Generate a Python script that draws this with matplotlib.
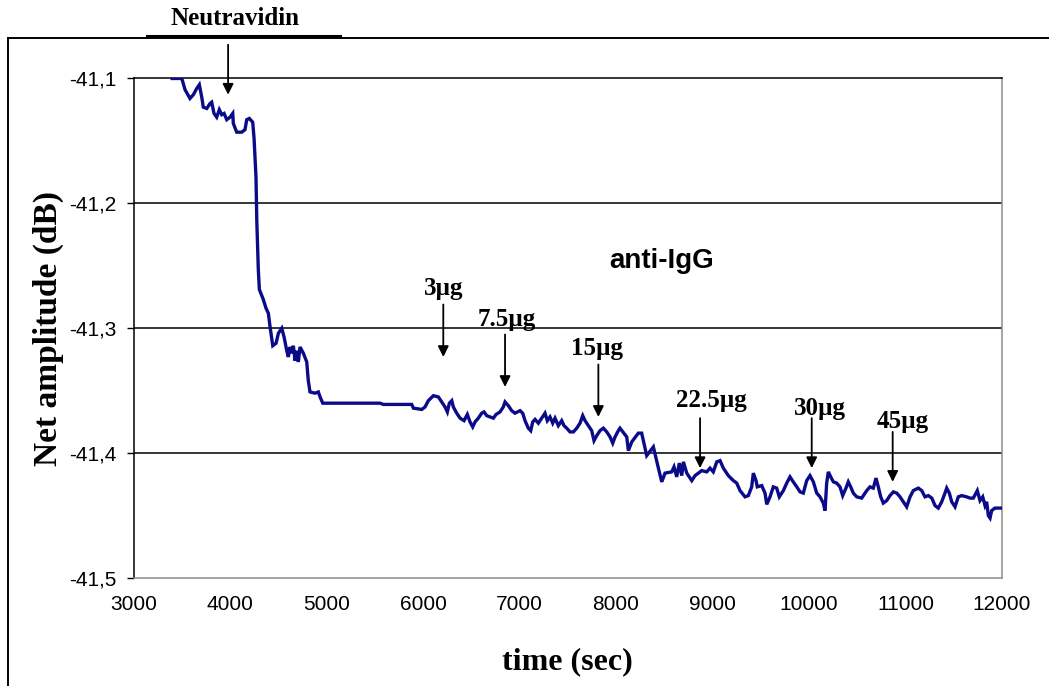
import matplotlib
matplotlib.use('Agg')
import matplotlib.pyplot as plt
from matplotlib.ticker import FuncFormatter, MultipleLocator
from matplotlib.lines import Line2D

# sensor response, time in s, net amplitude in dB
time_s = [3400, 3500, 3534, 3585, 3620, 3655, 3682, 3707, 3723, 3759, 3793, 3810, 3834, 3862,
          3889, 3914, 3938, 3966, 4000, 4028, 4034, 4069, 4121, 4155, 4173, 4200, 4235, 4249,
          4269, 4277, 4293, 4304, 4345, 4373, 4397, 4415, 4443, 4477, 4501, 4536, 4560, 4588,
          4604, 4622, 4639, 4656, 4674, 4691, 4708, 4725, 4760, 4795, 4811, 4829, 4881, 4915,
          4933, 4961, 5554, 5589, 5883, 5900, 5987, 6021, 6055, 6107, 6159, 6194, 6228, 6252,
          6273, 6298, 6314, 6349, 6384, 6425, 6459, 6487, 6515, 6539, 6573, 6608, 6632, 6660,
          6694, 6729, 6757, 6798, 6832, 6850, 6884, 6919, 6953, 7005, 7033, 7057, 7091, 7116,
          7137, 7161, 7195, 7230, 7264, 7288, 7316, 7344, 7368, 7402, 7437, 7461, 7489, 7523,
          7558, 7593, 7627, 7655, 7679, 7713, 7748, 7772, 7800, 7834, 7869, 7904, 7938, 7966,
          7990, 8024, 8041, 8111, 8128, 8163, 8231, 8266, 8318, 8387, 8439, 8474, 8508, 8577,
          8601, 8629, 8656, 8681, 8698, 8733, 8785, 8819, 8888, 8940, 8974, 9008, 9044, 9078,
          9112, 9164, 9216, 9251, 9285, 9337, 9371, 9406, 9423, 9451, 9464, 9510, 9544, 9562,
          9596, 9630, 9665, 9692, 9734, 9769, 9803, 9837, 9873, 9907, 9941, 9976, 10010, 10045,
          10080, 10114, 10148, 10166, 10183, 10200, 10225, 10252, 10287, 10321, 10349, 10383,
          10407, 10432, 10459, 10494, 10546, 10598, 10632, 10666, 10694, 10718, 10743, 10770,
          10805, 10839, 10874, 10909, 10943, 10977, 11012, 11047, 11081, 11133, 11168, 11202,
          11236, 11272, 11306, 11340, 11375, 11409, 11427, 11454, 11479, 11513, 11547, 11582,
          11634, 11668, 11703, 11730, 11744, 11772, 11800, 11824, 11841, 11858, 11876, 11893,
          11927, 12000]
amplitude_db = [-41.100, -41.100, -41.109, -41.116, -41.113, -41.108, -41.105, -41.115, -41.123,
                -41.124, -41.120, -41.119, -41.128, -41.131, -41.125, -41.129, -41.128, -41.133,
                -41.131, -41.128, -41.136, -41.143, -41.143, -41.141, -41.133, -41.132, -41.135,
                -41.148, -41.179, -41.213, -41.253, -41.269, -41.277, -41.284, -41.288, -41.299,
                -41.314, -41.312, -41.304, -41.300, -41.307, -41.318, -41.323, -41.315, -41.320,
                -41.314, -41.326, -41.318, -41.327, -41.315, -41.320, -41.327, -41.342, -41.351,
                -41.352, -41.351, -41.355, -41.360, -41.360, -41.361, -41.361, -41.364, -41.365,
                -41.363, -41.358, -41.354, -41.355, -41.359, -41.363, -41.367, -41.360, -41.358,
                -41.363, -41.368, -41.372, -41.374, -41.369, -41.375, -41.379, -41.375, -41.372,
                -41.368, -41.367, -41.370, -41.371, -41.372, -41.369, -41.367, -41.363, -41.359,
                -41.362, -41.366, -41.368, -41.366, -41.368, -41.374, -41.380, -41.382, -41.375,
                -41.373, -41.376, -41.372, -41.368, -41.374, -41.371, -41.376, -41.372, -41.378,
                -41.374, -41.378, -41.380, -41.383, -41.383, -41.380, -41.376, -41.370, -41.374,
                -41.378, -41.382, -41.390, -41.386, -41.382, -41.380, -41.383, -41.387, -41.392,
                -41.387, -41.382, -41.380, -41.387, -41.398, -41.391, -41.384, -41.384, -41.402,
                -41.395, -41.412, -41.423, -41.416, -41.415, -41.411, -41.419, -41.408, -41.418,
                -41.407, -41.416, -41.422, -41.418, -41.414, -41.415, -41.412, -41.415, -41.407,
                -41.406, -41.412, -41.418, -41.422, -41.424, -41.430, -41.435, -41.434, -41.427,
                -41.416, -41.422, -41.427, -41.426, -41.432, -41.441, -41.435, -41.427, -41.428,
                -41.435, -41.430, -41.424, -41.419, -41.423, -41.427, -41.431, -41.432, -41.422,
                -41.418, -41.423, -41.432, -41.435, -41.440, -41.446, -41.424, -41.415, -41.419,
                -41.423, -41.424, -41.427, -41.434, -41.428, -41.423, -41.427, -41.432, -41.435,
                -41.436, -41.430, -41.427, -41.428, -41.420, -41.427, -41.435, -41.440, -41.438,
                -41.434, -41.431, -41.432, -41.435, -41.439, -41.443, -41.435, -41.430, -41.428,
                -41.430, -41.435, -41.434, -41.436, -41.442, -41.444, -41.439, -41.432, -41.428,
                -41.432, -41.439, -41.443, -41.435, -41.434, -41.435, -41.436, -41.436, -41.432,
                -41.430, -41.438, -41.435, -41.442, -41.439, -41.450, -41.452, -41.446, -41.444,
                -41.444]

# anti-IgG injections
dose_labels = ['3µg', '7.5µg', '15µg', '22.5µg', '30µg', '45µg']
dose_times = [6210, 6850, 7817, 8871, 10028, 10867]
neutravidin_time = 3980

# arrow tail / tip heights and label anchors (data units)
dose_arrow_tail = [-41.281, -41.305, -41.329, -41.372, -41.372, -41.383]
dose_arrow_tip = [-41.323, -41.347, -41.371, -41.412, -41.412, -41.423]
dose_label_x = [6218, 6871, 7803, 8985, 10114, 10974]
dose_label_y = [-41.268, -41.293, -41.316, -41.358, -41.364, -41.375]

serif = 'Liberation Serif'
sans = 'Liberation Sans'

fig = plt.figure(figsize=(10.49, 6.86), dpi=100)
ax = fig.add_axes([0.1273, 0.1574, 0.8279, 0.7282])

ax.plot(time_s, amplitude_db, color='#0b0b8a', lw=2.4, solid_joinstyle='miter', zorder=3)

ax.set_xlim(3000, 12000)
ax.set_ylim(-41.5, -41.1)
ax.xaxis.set_major_locator(MultipleLocator(1000))
ax.yaxis.set_major_locator(MultipleLocator(0.1))
ax.yaxis.set_major_formatter(FuncFormatter(lambda v, p: f'{v:.1f}'.replace('.', ',')))

for yv in [-41.2, -41.3, -41.4]:
    ax.axhline(yv, color='black', lw=1.1, zorder=1)

for s in ['top', 'left']:
    ax.spines[s].set_color('black')
    ax.spines[s].set_linewidth(1.1)
for s in ['bottom', 'right']:
    ax.spines[s].set_color('#8c8c8c')
    ax.spines[s].set_linewidth(1.1)

ax.tick_params(axis='y', direction='out', length=5, width=1, pad=7, labelsize=15)
ax.tick_params(axis='x', length=0, pad=12, labelsize=15)
for lab in ax.get_xticklabels() + ax.get_yticklabels():
    lab.set_family(sans)

ax.set_xlabel('time (sec)', fontsize=23, fontweight='bold', family=serif, labelpad=24)
ax.set_ylabel('Net amplitude (dB)', fontsize=24, fontweight='bold', family=serif, labelpad=4)

arrow_style = dict(arrowstyle='-|>', color='black', lw=1.3, mutation_scale=16, shrinkA=0, shrinkB=0)

# Neutravidin injection
ax.annotate('', xy=(neutravidin_time, -41.113), xytext=(neutravidin_time, -41.073),
            arrowprops=arrow_style, annotation_clip=False)
ax.text(4052, -41.0523, 'Neutravidin', ha='center', va='center', fontsize=18,
        fontweight='bold', family=serif, clip_on=False)

for lab, t, y0, y1, lx, ly in zip(dose_labels, dose_times, dose_arrow_tail, dose_arrow_tip,
                                  dose_label_x, dose_label_y):
    ax.annotate('', xy=(t, y1), xytext=(t, y0), arrowprops=arrow_style)
    ax.text(lx, ly, lab, ha='center', va='center', fontsize=18, fontweight='bold', family=serif)

ax.text(8477, -41.2458, 'anti-IgG', ha='center', va='center', fontsize=20,
        fontweight='bold', family=sans)

# outer frame and title underline
W, H = 1049, 686
fig.add_artist(Line2D([8.3 / W, 8.3 / W], [0, 1 - 38.3 / H], color='black', lw=1.4))
fig.add_artist(Line2D([8.3 / W, 1], [1 - 38.3 / H, 1 - 38.3 / H], color='black', lw=1.4))
fig.add_artist(Line2D([147 / W, 340 / W], [1 - 35.5 / H, 1 - 35.5 / H], color='black', lw=2.2))

fig.savefig('out.png', dpi=100)
